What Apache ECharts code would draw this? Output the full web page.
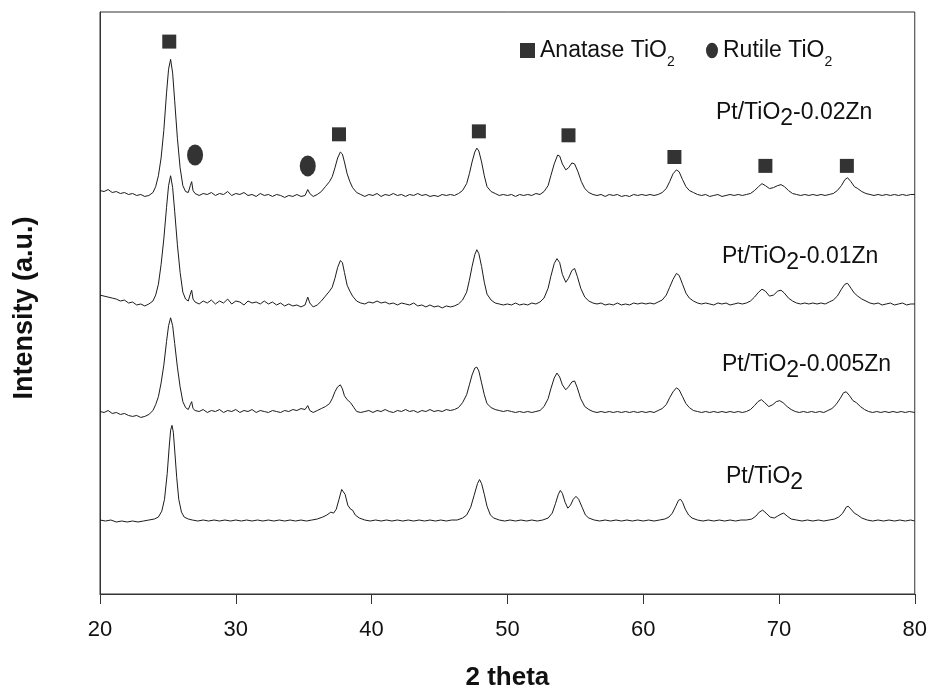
<!DOCTYPE html>
<html>
<head>
<meta charset="utf-8">
<script src="https://cdn.jsdelivr.net/npm/echarts@6/dist/echarts.min.js"></script>
<style>html,body{margin:0;padding:0;background:#fff}#c{width:930px;height:696px}</style>
</head>
<body>
<div id="c"></div>
<script>
// x-axis tick values
var xTicks = [20, 30, 40, 50, 60, 70, 80];

// Sample names (top to bottom)
var sampleNames = ['Pt/TiO2-0.02Zn', 'Pt/TiO2-0.01Zn', 'Pt/TiO2-0.005Zn', 'Pt/TiO2'];

// Pt/TiO2-0.02Zn : [2theta, intensity (a.u., offset)]
var zn002 = [[20,409],[20.3,408],[20.6,410],[20.9,407],[21.2,408],[21.5,406],[21.8,407],[22.1,405],[22.4,406],[22.7,404],[23,405],[23.3,403],[23.6,404],[23.9,407],[24.1,413],[24.3,424],[24.5,442],[24.7,470],[24.9,508],[25.05,532],[25.2,542],[25.35,528],[25.5,500],[25.7,462],[25.9,432],[26.1,414],[26.3,408],[26.5,407],[26.65,414],[26.75,418],[26.85,409],[27,406],[27.3,404],[27.6,406],[27.9,405],[28.2,407],[28.5,404],[28.8,406],[29.1,405],[29.4,408],[29.7,404],[30,406],[30.3,405],[30.6,407],[30.9,404],[31.2,405],[31.5,403],[31.8,406],[32.1,404],[32.4,405],[32.7,403],[33,405],[33.3,404],[33.6,402],[33.9,404],[34.2,403],[34.5,405],[34.8,403],[35.1,404],[35.3,410],[35.45,406],[35.7,403],[36,405],[36.3,408],[36.6,413],[36.9,418],[37.1,423],[37.3,432],[37.5,442],[37.7,448],[37.85,446],[38,438],[38.2,426],[38.4,418],[38.6,412],[38.9,407],[39.2,405],[39.5,403],[39.8,405],[40.1,404],[40.4,406],[40.7,403],[41,405],[41.3,404],[41.6,406],[41.9,404],[42.2,405],[42.5,403],[42.8,405],[43.1,404],[43.4,406],[43.7,404],[44,405],[44.3,403],[44.6,404],[44.9,403],[45.2,405],[45.5,404],[45.8,405],[46.1,404],[46.4,406],[46.7,409],[47,416],[47.2,426],[47.4,438],[47.6,448],[47.75,452],[47.9,449],[48.1,438],[48.3,424],[48.5,413],[48.8,408],[49.1,406],[49.4,404],[49.7,405],[50,404],[50.3,405],[50.6,403],[50.9,405],[51.2,404],[51.5,405],[51.8,404],[52.1,406],[52.4,405],[52.7,408],[53,414],[53.2,424],[53.45,436],[53.7,445],[53.85,444],[54.05,436],[54.3,430],[54.5,432],[54.75,437],[54.95,436],[55.2,428],[55.45,418],[55.7,411],[56,407],[56.3,405],[56.6,404],[56.9,405],[57.2,403],[57.5,405],[57.8,404],[58.1,405],[58.4,403],[58.7,404],[59,403],[59.3,405],[59.6,404],[59.9,405],[60.2,404],[60.5,405],[60.8,404],[61.1,405],[61.4,407],[61.7,411],[61.95,418],[62.2,426],[62.45,430],[62.65,428],[62.9,420],[63.15,413],[63.4,409],[63.7,407],[64,405],[64.3,404],[64.6,405],[64.9,403],[65.2,404],[65.5,405],[65.8,403],[66.1,404],[66.4,405],[66.7,404],[67,405],[67.3,404],[67.6,405],[67.9,406],[68.2,409],[68.5,413],[68.75,416],[69,414],[69.3,411],[69.6,412],[69.9,414],[70.15,415],[70.4,413],[70.7,409],[71,406],[71.3,405],[71.6,404],[71.9,405],[72.2,404],[72.5,405],[72.8,404],[73.1,405],[73.4,404],[73.7,405],[74,406],[74.3,409],[74.6,414],[74.85,420],[75.05,422],[75.3,418],[75.55,413],[75.8,411],[76.1,408],[76.4,406],[76.7,405],[77,404],[77.3,405],[77.6,404],[77.9,405],[78.2,404],[78.5,405],[78.8,404],[79.1,405],[79.4,404],[79.7,405],[80,405]];

// Pt/TiO2-0.01Zn
var zn001 = [[20,303],[20.3,302],[20.6,301],[20.9,300],[21.2,299],[21.5,297],[21.8,298],[22.1,295],[22.4,296],[22.7,293],[23,294],[23.3,292],[23.6,294],[23.9,297],[24.1,303],[24.3,314],[24.5,334],[24.7,360],[24.9,392],[25.05,414],[25.2,424],[25.35,412],[25.5,388],[25.7,354],[25.9,326],[26.1,306],[26.3,299],[26.5,297],[26.65,304],[26.75,308],[26.85,299],[27,296],[27.3,294],[27.6,297],[27.9,295],[28.2,298],[28.5,294],[28.8,297],[29.1,295],[29.4,299],[29.7,294],[30,297],[30.3,296],[30.6,293],[30.9,297],[31.2,295],[31.5,296],[31.8,294],[32.1,297],[32.4,294],[32.7,296],[33,293],[33.3,295],[33.6,292],[33.9,294],[34.2,292],[34.5,293],[34.8,291],[35.1,293],[35.3,301],[35.45,295],[35.7,291],[36,293],[36.3,297],[36.6,302],[36.9,307],[37.1,311],[37.3,320],[37.5,331],[37.7,338],[37.85,336],[38,326],[38.2,313],[38.4,307],[38.6,302],[38.9,297],[39.2,295],[39.5,294],[39.8,296],[40.1,295],[40.4,297],[40.7,295],[41,296],[41.3,294],[41.6,295],[41.9,293],[42.2,295],[42.5,294],[42.8,293],[43.1,295],[43.4,292],[43.7,293],[44,291],[44.3,293],[44.6,291],[44.9,292],[45.2,290],[45.5,292],[45.8,291],[46.1,292],[46.4,294],[46.7,298],[47,306],[47.2,318],[47.4,332],[47.6,344],[47.75,349],[47.9,345],[48.1,332],[48.3,316],[48.5,304],[48.8,298],[49.1,295],[49.4,294],[49.7,293],[50,294],[50.3,293],[50.6,295],[50.9,293],[51.2,294],[51.5,293],[51.8,295],[52.1,294],[52.4,296],[52.7,300],[53,310],[53.2,322],[53.45,335],[53.65,340],[53.85,336],[54.05,324],[54.3,316],[54.5,320],[54.75,328],[54.95,330],[55.15,322],[55.4,310],[55.7,301],[56,297],[56.3,295],[56.6,294],[56.9,295],[57.2,293],[57.5,294],[57.8,293],[58.1,295],[58.4,293],[58.7,294],[59,293],[59.3,295],[59.6,294],[59.9,295],[60.2,294],[60.5,295],[60.8,294],[61.1,296],[61.4,298],[61.7,303],[61.95,311],[62.2,319],[62.45,325],[62.65,323],[62.9,314],[63.15,305],[63.4,300],[63.7,297],[64,295],[64.3,294],[64.6,295],[64.9,294],[65.2,293],[65.5,295],[65.8,294],[66.1,295],[66.4,293],[66.7,294],[67,295],[67.3,294],[67.6,295],[67.9,297],[68.2,301],[68.5,306],[68.75,309],[69,307],[69.3,302],[69.6,303],[69.9,307],[70.15,308],[70.4,305],[70.7,300],[71,297],[71.3,295],[71.6,294],[71.9,295],[72.2,294],[72.5,295],[72.8,294],[73.1,295],[73.4,294],[73.7,296],[74,298],[74.3,302],[74.6,309],[74.85,314],[75.05,315],[75.3,310],[75.55,305],[75.8,302],[76.1,299],[76.4,297],[76.7,295],[77,294],[77.3,295],[77.6,293],[77.9,294],[78.2,295],[78.5,293],[78.8,294],[79.1,295],[79.4,293],[79.7,294],[80,294]];

// Pt/TiO2-0.005Zn
var zn0005 = [[20,185],[20.3,184],[20.6,186],[20.9,183],[21.2,184],[21.5,182],[21.8,183],[22.1,181],[22.4,180],[22.7,181],[23,179],[23.3,180],[23.6,182],[23.9,186],[24.1,192],[24.3,200],[24.5,214],[24.7,232],[24.9,256],[25.05,272],[25.2,280],[25.35,272],[25.5,254],[25.7,230],[25.9,210],[26.1,195],[26.3,189],[26.5,187],[26.65,192],[26.75,195],[26.85,188],[27,186],[27.3,185],[27.6,187],[27.9,184],[28.2,186],[28.5,185],[28.8,187],[29.1,184],[29.4,186],[29.7,185],[30,187],[30.3,184],[30.6,186],[30.9,185],[31.2,187],[31.5,184],[31.8,186],[32.1,185],[32.4,184],[32.7,186],[33,185],[33.3,184],[33.6,186],[33.9,185],[34.2,187],[34.5,186],[34.8,188],[35.1,187],[35.3,191],[35.45,186],[35.7,184],[36,186],[36.3,188],[36.6,190],[36.9,193],[37.1,198],[37.3,205],[37.5,210],[37.7,212],[37.85,208],[38,201],[38.2,197],[38.45,194],[38.7,189],[38.9,185],[39.2,184],[39.5,185],[39.8,186],[40.1,184],[40.4,186],[40.7,185],[41,187],[41.3,185],[41.6,184],[41.9,186],[42.2,185],[42.5,187],[42.8,185],[43.1,186],[43.4,184],[43.7,186],[44,185],[44.3,187],[44.6,185],[44.9,186],[45.2,185],[45.5,187],[45.8,186],[46.1,187],[46.4,189],[46.7,194],[47,202],[47.2,212],[47.4,222],[47.6,229],[47.75,230],[47.9,226],[48.1,214],[48.3,202],[48.5,193],[48.8,189],[49.1,187],[49.4,186],[49.7,185],[50,186],[50.3,185],[50.6,184],[50.9,185],[51.2,184],[51.5,185],[51.8,184],[52.1,185],[52.4,186],[52.7,190],[53,198],[53.2,208],[53.45,219],[53.65,224],[53.85,220],[54.05,212],[54.3,207],[54.5,210],[54.75,215],[54.95,216],[55.15,209],[55.4,198],[55.7,190],[56,187],[56.3,185],[56.6,184],[56.9,185],[57.2,184],[57.5,185],[57.8,184],[58.1,185],[58.4,184],[58.7,185],[59,184],[59.3,185],[59.6,184],[59.9,185],[60.2,184],[60.5,185],[60.8,184],[61.1,186],[61.4,188],[61.7,192],[61.95,199],[62.2,205],[62.45,209],[62.65,207],[62.9,200],[63.15,193],[63.4,189],[63.7,186],[64,185],[64.3,184],[64.6,185],[64.9,184],[65.2,185],[65.5,184],[65.8,185],[66.1,184],[66.4,185],[66.7,184],[67,185],[67.3,184],[67.6,185],[67.9,187],[68.2,191],[68.45,195],[68.7,197],[68.95,194],[69.25,190],[69.55,192],[69.8,195],[70.05,196],[70.3,194],[70.6,190],[70.9,187],[71.2,185],[71.5,184],[71.8,185],[72.1,184],[72.4,185],[72.7,184],[73,185],[73.3,184],[73.6,186],[73.9,188],[74.2,192],[74.5,198],[74.75,204],[74.95,205],[75.2,201],[75.45,196],[75.7,194],[76,190],[76.3,187],[76.6,185],[76.9,184],[77.2,185],[77.5,184],[77.8,185],[78.1,184],[78.4,185],[78.7,184],[79,185],[79.3,184],[79.6,185],[80,184]];

// Pt/TiO2
var ptTiO2 = [[20,75],[20.4,74],[20.8,75],[21.2,73],[21.6,74],[22,73],[22.4,74],[22.8,73],[23.2,74],[23.6,75],[24,76],[24.3,78],[24.55,84],[24.75,96],[24.95,122],[25.1,150],[25.2,166],[25.3,171],[25.4,164],[25.5,146],[25.65,118],[25.8,96],[26,83],[26.2,78],[26.5,76],[26.8,75],[27.2,74],[27.6,75],[28,74],[28.4,75],[28.8,74],[29.2,75],[29.6,74],[30,75],[30.4,74],[30.8,75],[31.2,74],[31.6,75],[32,74],[32.4,75],[32.8,74],[33.2,75],[33.6,74],[34,75],[34.4,74],[34.8,75],[35.2,74],[35.6,75],[36,76],[36.4,78],[36.7,80],[37,83],[37.2,82],[37.4,86],[37.6,96],[37.8,106],[37.9,107],[38.05,101],[38.25,90],[38.45,86],[38.6,85],[38.8,80],[39.1,77],[39.5,75],[39.9,74],[40.3,75],[40.7,74],[41.1,75],[41.5,74],[41.9,75],[42.3,74],[42.7,75],[43.1,74],[43.5,75],[43.9,74],[44.3,75],[44.7,74],[45.1,75],[45.5,74],[45.9,75],[46.3,75],[46.7,77],[47,80],[47.3,88],[47.55,100],[47.8,112],[47.95,116],[48.1,112],[48.3,101],[48.5,89],[48.75,80],[49,77],[49.4,75],[49.8,74],[50.2,75],[50.6,74],[51,75],[51.4,74],[51.8,75],[52.2,74],[52.6,75],[53,77],[53.3,82],[53.55,92],[53.75,101],[53.9,105],[54.05,102],[54.25,93],[54.45,87],[54.65,90],[54.85,96],[55.05,99],[55.25,96],[55.5,88],[55.75,80],[56,77],[56.4,75],[56.8,74],[57.2,75],[57.6,74],[58,75],[58.4,74],[58.8,75],[59.2,74],[59.6,75],[60,74],[60.4,75],[60.8,74],[61.2,75],[61.6,76],[61.9,78],[62.15,82],[62.4,89],[62.6,95],[62.75,96],[62.9,93],[63.1,86],[63.35,80],[63.6,77],[64,75],[64.4,74],[64.8,75],[65.2,74],[65.6,75],[66,74],[66.4,75],[66.8,74],[67.2,75],[67.6,75],[68,76],[68.3,79],[68.55,83],[68.8,85],[69.05,82],[69.35,78],[69.65,77],[69.9,79],[70.15,81],[70.35,82],[70.6,79],[70.9,76],[71.3,75],[71.7,74],[72.1,75],[72.5,74],[72.9,75],[73.3,74],[73.7,75],[74.1,76],[74.4,78],[74.7,82],[74.95,88],[75.1,89],[75.3,86],[75.55,82],[75.8,80],[76.1,77],[76.5,75],[76.9,74],[77.3,75],[77.7,74],[78.1,75],[78.5,74],[78.9,75],[79.3,74],[79.7,75],[80,74]];

// Phase markers [2theta, height]
var anataseMarks = [[25.1,560],[37.6,466],[47.9,469],[54.5,465],[62.3,443],[69.0,434],[75.0,434]];
var rutileMarks = [[27.0,445],[35.3,434]];

var FONT = '"Liberation Sans", Arial, Helvetica, sans-serif';
var ELLIPSE = 'path://M10,0 A10,13 0 1,1 10,26 A10,13 0 1,1 10,0 Z';
var LINE = '#1c1c1c';

function lineSeries(name, data) {
  return {
    name: name, type: 'line', data: data, showSymbol: false, symbol: 'none',
    lineStyle: { color: LINE, width: 1 }, itemStyle: { color: LINE },
    animation: false, silent: true, z: 2
  };
}

var chart = echarts.init(document.getElementById('c'), null, { renderer: 'canvas' });

var richLegend = {
  m: { fontSize: 23, fontFamily: FONT, color: '#111', verticalAlign: 'middle' },
  sub: { fontSize: 14, fontFamily: FONT, color: '#111', padding: [24, 0, 0, 0], verticalAlign: 'middle' }
};

function sampleLabel(idx, x, y) {
  var n = sampleNames[idx];
  var parts = n.split('TiO2');
  var txt = '{m|' + parts[0] + 'TiO}{s|2}' + (parts[1] ? '{m|' + parts[1] + '}' : '');
  return {
    type: 'text', left: x, top: y, silent: true,
    style: {
      text: txt,
      rich: {
        m: { fontSize: 23, fontFamily: FONT, fill: '#111', verticalAlign: 'middle' },
        s: { fontSize: 23, fontFamily: FONT, fill: '#111', padding: [12, 0, 0, 0], verticalAlign: 'middle' }
      }
    }
  };
}

var option = {
  backgroundColor: '#fff',
  animation: false,
  grid: { left: 100, right: 14, top: 12, bottom: 94, show: true, borderColor: '#333', borderWidth: 1, backgroundColor: 'transparent' },
  xAxis: {
    type: 'value', min: xTicks[0], max: xTicks[xTicks.length - 1], interval: 10,
    name: '2 theta', nameLocation: 'middle', nameGap: 71,
    nameTextStyle: { fontFamily: FONT, fontSize: 26, fontWeight: 'bold', color: '#111' },
    axisLine: { show: true, lineStyle: { color: '#333', width: 1 } },
    axisTick: { show: true, inside: false, length: 10, lineStyle: { color: '#333' } },
    axisLabel: { fontFamily: FONT, fontSize: 22, color: '#111', margin: 25 },
    splitLine: { show: false }
  },
  yAxis: {
    type: 'value', min: 0, max: 590,
    name: 'Intensity (a.u.)', nameLocation: 'middle', nameGap: 62,
    nameTextStyle: { fontFamily: FONT, fontSize: 27, fontWeight: 'bold', color: '#111', padding: [0, 10, 0, 0] },
    axisLine: { show: true, lineStyle: { color: '#333', width: 1 } },
    axisTick: { show: false }, axisLabel: { show: false }, splitLine: { show: false }
  },
  legend: [
    {
      data: [{ name: 'Anatase', icon: 'rect' }], left: 520, top: 39, padding: 0,
      itemWidth: 15, itemHeight: 15, selectedMode: false,
      formatter: '{m|Anatase TiO}{sub|2}',
      textStyle: { fontFamily: FONT, fontSize: 23, color: '#111', rich: richLegend }
    },
    {
      data: [{ name: 'Rutile', icon: ELLIPSE }], left: 706, top: 39, padding: 0,
      itemWidth: 12, itemHeight: 22, selectedMode: false,
      formatter: '{m|Rutile TiO}{sub|2}',
      textStyle: { fontFamily: FONT, fontSize: 23, color: '#111', rich: richLegend }
    }
  ],
  graphic: [
    sampleLabel(0, 716, 101),
    sampleLabel(1, 722, 245),
    sampleLabel(2, 722, 353),
    sampleLabel(3, 726, 465)
  ],
  series: [
    lineSeries(sampleNames[0], zn002),
    lineSeries(sampleNames[1], zn001),
    lineSeries(sampleNames[2], zn0005),
    lineSeries(sampleNames[3], ptTiO2),
    { name: 'Anatase', type: 'scatter', data: anataseMarks, symbol: 'rect', symbolSize: 14,
      itemStyle: { color: '#000' }, silent: true, z: 3 },
    { name: 'Rutile', type: 'scatter', data: rutileMarks, symbol: ELLIPSE, symbolSize: [16, 21],
      itemStyle: { color: '#000' }, silent: true, z: 3 }
  ]
};
chart.setOption(option);
</script>
</body>
</html>
